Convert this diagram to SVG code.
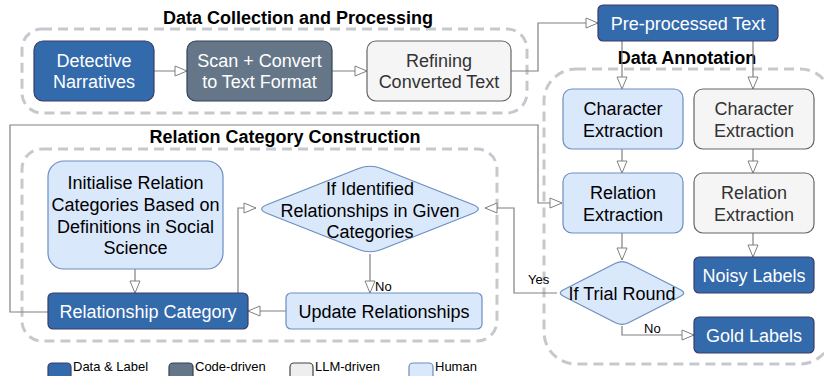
<svg xmlns="http://www.w3.org/2000/svg" width="824" height="376" viewBox="0 0 824 376">
<defs>
<marker id="arr" markerUnits="userSpaceOnUse" markerWidth="14" markerHeight="12" refX="12" refY="5" orient="auto" overflow="visible">
<path d="M0,0 L12,5 L0,10 Z" fill="#ffffff" stroke="#808080" stroke-width="1"/>
</marker>
</defs>
<style>
text{font-family:"Liberation Sans",Arial,sans-serif;}
.t{font-size:18px;text-anchor:middle;}
.title{font-size:18px;font-weight:bold;text-anchor:middle;fill:#000;}
.small{font-size:13px;fill:#000;}
.cont{fill:none;stroke:#c5c9ce;stroke-width:3;stroke-dasharray:10 6;}
.data{fill:#336aab;stroke:#3a3d6b;stroke-width:1.2;}
.code{fill:#647687;stroke:#314354;stroke-width:1.2;}
.llm{fill:#f5f5f5;stroke:#666666;stroke-width:1.2;}
.human{fill:#dae8fc;stroke:#6c8ebf;stroke-width:1.2;}
.w{fill:#ffffff;}
.k{fill:#000000;}
.g{fill:#333333;}
.c{fill:none;stroke:#808080;stroke-width:1.2;marker-end:url(#arr);}
.cn{fill:none;stroke:#808080;stroke-width:1.2;}
</style>
<rect width="824" height="376" fill="#ffffff"/>

<g id="containers">
<rect class="cont" x="22" y="29" width="505" height="84" rx="20"/>
<rect class="cont" x="22" y="149" width="475" height="192" rx="20"/>
<rect class="cont" x="544" y="69" width="288" height="295" rx="32"/>
</g>

<g id="titles">
<text class="title" x="298" y="24">Data Collection and Processing</text>
<text class="title" x="687" y="64">Data Annotation</text>
<text class="title" x="285" y="143">Relation Category Construction</text>
</g>

<g id="connectors">
<path class="c" d="M154,71 L187,71"/>
<path class="c" d="M332,71 L367,71"/>
<path class="c" d="M511,71 L538,71 L538,23 L598,23"/>
<path class="c" d="M622,41 L622,89"/>
<path class="c" d="M753,41 L753,89"/>
<path class="c" d="M622,149 L622,173"/>
<path class="c" d="M753,149 L753,173"/>
<path class="c" d="M622,233 L622,260"/>
<path class="c" d="M753,233 L753,257"/>
<path class="c" d="M622,326 L622,335 L694,335"/>
<path class="c" d="M557,293 L514,293 L514,208 L485,208"/>
<path class="c" d="M48,312 L10,312 L10,125 L538,125 L538,203 L562,203"/>
<path class="c" d="M135,269 L135,293"/>
<path class="c" d="M238,293 L238,208 L256,208"/>
<path class="c" d="M370,254 L370,293"/>
<path class="c" d="M286,311 L248,311"/>
<text class="small" x="528" y="284">Yes</text>
<text class="small" x="644" y="333">No</text>
<text class="small" x="375" y="291">No</text>
</g>

<g id="detective">
<rect class="data" x="34" y="41" width="120" height="60" rx="9"/>
<text class="t w" x="94" y="66.5">Detective</text>
<text class="t w" x="94" y="88">Narratives</text>
</g>
<g id="scan">
<rect class="code" x="187" y="41" width="145" height="60" rx="9"/>
<text class="t w" x="259.5" y="66.5">Scan + Convert</text>
<text class="t w" x="259.5" y="88">to Text Format</text>
</g>
<g id="refining">
<rect class="llm" x="367" y="41" width="144" height="60" rx="9"/>
<text class="t g" x="439" y="66.5">Refining</text>
<text class="t g" x="439" y="88">Converted Text</text>
</g>
<g id="preprocessed">
<rect class="data" x="598" y="5" width="180" height="36" rx="5"/>
<text class="t w" x="688" y="29.5">Pre-processed Text</text>
</g>
<g id="char-human">
<rect class="human" x="563" y="89" width="120" height="60" rx="9"/>
<text class="t k" x="623" y="115">Character</text>
<text class="t k" x="623" y="137">Extraction</text>
</g>
<g id="char-llm">
<rect class="llm" x="694" y="89" width="120" height="60" rx="9"/>
<text class="t g" x="754" y="115">Character</text>
<text class="t g" x="754" y="137">Extraction</text>
</g>
<g id="rel-human">
<rect class="human" x="563" y="173" width="120" height="60" rx="9"/>
<text class="t k" x="623" y="199">Relation</text>
<text class="t k" x="623" y="221">Extraction</text>
</g>
<g id="rel-llm">
<rect class="llm" x="694" y="173" width="120" height="60" rx="9"/>
<text class="t g" x="754" y="199">Relation</text>
<text class="t g" x="754" y="221">Extraction</text>
</g>
<g id="noisy">
<rect class="data" x="694" y="257" width="120" height="36" rx="5"/>
<text class="t w" x="754" y="281.5">Noisy Labels</text>
</g>
<g id="gold">
<rect class="data" x="694" y="317" width="120" height="36" rx="5"/>
<text class="t w" x="754" y="341.5">Gold Labels</text>
</g>
<g id="trial">
<path class="human" d="M563.5,289.7 L615.5,263.3 Q622,260 628.5,263.3 L680.5,289.7 Q687,293 680.5,296.3 L628.5,322.7 Q622,326 615.5,322.7 L563.5,296.3 Q557,293 563.5,289.7 Z"/>
<text class="t k" x="622" y="299.5">If Trial Round</text>
</g>
<g id="initialise">
<rect class="human" x="48" y="161" width="175" height="108" rx="16"/>
<text class="t k" x="135.5" y="189">Initialise Relation</text>
<text class="t k" x="135.5" y="211">Categories Based on</text>
<text class="t k" x="135.5" y="233">Definitions in Social</text>
<text class="t k" x="135.5" y="254">Science</text>
</g>
<g id="identified">
<path class="human" d="M267.4,204.5 L358.6,168.5 Q370,164 381.4,168.5 L472.6,204.5 Q484,209 472.6,213.5 L381.4,249.5 Q370,254 358.6,249.5 L267.4,213.5 Q256,209 267.4,204.5 Z"/>
<text class="t k" x="370" y="194.5">If Identified</text>
<text class="t k" x="370" y="216.5">Relationships in Given</text>
<text class="t k" x="370" y="238">Categories</text>
</g>
<g id="relcat">
<rect class="data" x="48" y="293" width="200" height="36" rx="5"/>
<text class="t w" x="148" y="317.5">Relationship Category</text>
</g>
<g id="update">
<rect class="human" x="286" y="293" width="196" height="36" rx="5"/>
<text class="t k" x="384" y="317.5">Update Relationships</text>
</g>

<g id="legend">
<rect class="data" x="48" y="363" width="23" height="20" rx="4"/>
<text class="small" x="73" y="371">Data &amp; Label</text>
<rect class="code" x="169" y="363" width="24" height="20" rx="4"/>
<text class="small" x="195" y="371">Code-driven</text>
<rect x="290" y="363" width="23" height="20" rx="4" fill="#eeeeee" stroke="#444444" stroke-width="1.2"/>
<text class="small" x="315" y="371">LLM-driven</text>
<rect class="human" x="409" y="363" width="24" height="20" rx="4"/>
<text class="small" x="435" y="371">Human</text>
</g>
</svg>
